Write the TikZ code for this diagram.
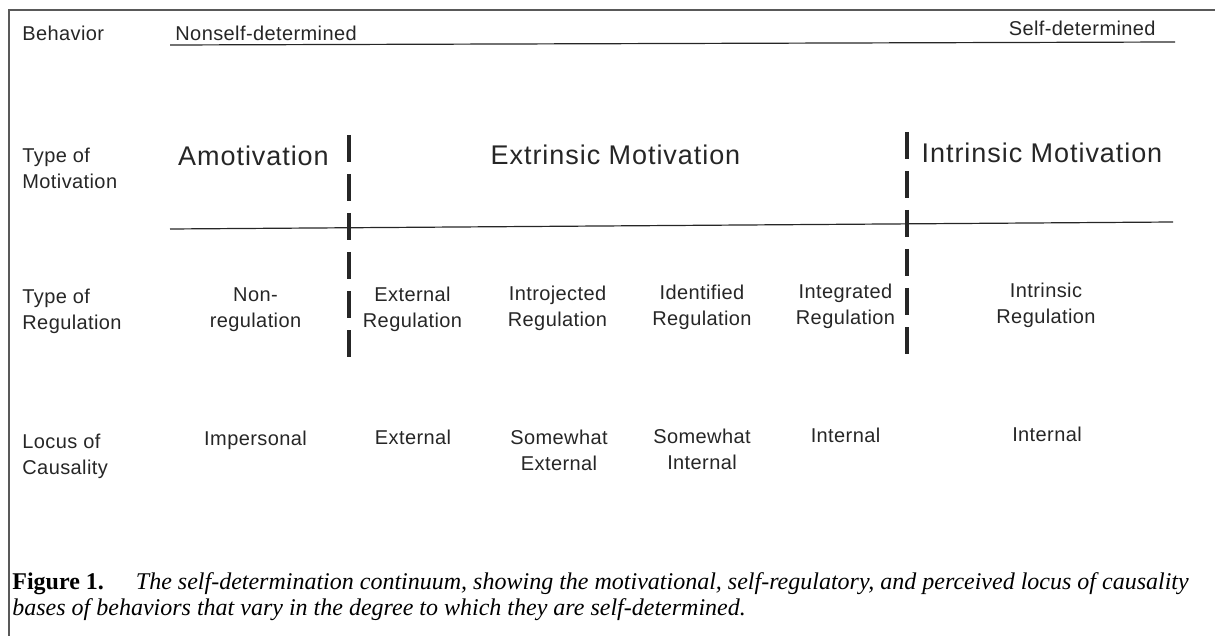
\documentclass[tikz,border=0pt]{standalone}
\usepackage{fontspec}
\setmainfont{Liberation Serif}
\newfontfamily\labelfont[LetterSpace=2]{Liberation Sans}
\newfontfamily\headfont[LetterSpace=3.5]{Liberation Sans}
\tikzset{
    sdt text/.style={inner sep=0pt, text=black!85, font=\labelfont\fontsize{10}{13}\selectfont},
    row label/.style={sdt text, anchor=north west, align=left, execute at begin node=\strut},
    cell/.style={sdt text, anchor=north, align=center, execute at begin node=\strut},
    heading/.style={sdt text, anchor=base, font=\headfont\fontsize{13.5}{16}\selectfont},
    divider/.style={line width=1.7pt, black!85, dash pattern=on 13.5pt off 6pt},
    rule/.style={line width=0.6pt, black!85},
    frame/.style={line width=1pt, black!65},
    caption/.style={inner sep=0pt, anchor=north west, align=left, font=\fontsize{12}{13}\selectfont, execute at begin node=\strut},
}

\begin{document}
\begin{tikzpicture}[x=0.5pt, y=-0.5pt]
        \useasboundingbox (0,0) rectangle (1215,636);
        %draw frame round the figure
        \draw[frame] (9,636) -- (9,10) -- (1215,10);
        %behavior scale
        \node[sdt text, anchor=base west] (behav) at (22,41) {Behavior};
        \node[sdt text, anchor=base west] (nonself) at (175,41) {Nonself-determined};
        \node[sdt text, anchor=base east] (selfdet) at (1156,36) {Self-determined};
        \coordinate (scaleL) at (170,45);
        \coordinate (scaleR) at (1175,42);
        \draw[rule] (scaleL) -- (scaleR);
        %label rows
        \node[row label] (motivlab) at (22,147.3) {Type of\\Motivation};
        \node[row label] (regullab) at (22,288.8) {Type of\\Regulation};
        \node[row label] (locuslab) at (22,433.8) {Locus of\\Causality};
        %type of motivation
        \node[heading] (amot) at (253.5,166) {Amotivation};
        \node[heading] (extr) at (615.5,165) {Extrinsic Motivation};
        \node[heading] (intr) at (1042,163) {Intrinsic Motivation};
        %line between motivation and regulation
        \coordinate (midL) at (170,229);
        \coordinate (midR) at (1173,222);
        \draw[rule] (midL) -- (midR);
        %dashed dividers
        \coordinate (divAtop) at (349,135);
        \coordinate (divAbot) at (349,357);
        \coordinate (divBtop) at (907,132);
        \coordinate (divBbot) at (907,354);
        \draw[divider] (divAtop) -- (divAbot);
        \draw[divider] (divBtop) -- (divBbot);
        %type of regulation
        \node[cell] (nonreg) at (255.5,287.8) {Non-\\regulation};
        \node[cell] (extreg) at (412.5,286.8) {External\\Regulation};
        \node[cell] (introreg) at (557.5,285.8) {Introjected\\Regulation};
        \node[cell] (identreg) at (702,284.8) {Identified\\Regulation};
        \node[cell] (integreg) at (845.5,283.8) {Integrated\\Regulation};
        \node[cell] (intrreg) at (1046,282.5) {Intrinsic\\Regulation};
        %locus of causality
        \node[cell] (imper) at (255.5,426.8) {Impersonal};
        \node[cell] (extloc) at (413,425.8) {External};
        \node[cell] (swext) at (559,429.8) {Somewhat\\External};
        \node[cell] (swint) at (702,428.8) {Somewhat\\Internal};
        \node[cell] (intlocA) at (845.5,423.8) {Internal};
        \node[cell] (intlocB) at (1047,422.8) {Internal};
        %caption
        \node[caption] (cap) at (12,571.8) {\textbf{Figure 1.}\hspace{16pt}\textit{The self-determination continuum, showing the motivational, self-regulatory, and perceived locus of causality}\\\textit{bases of behaviors that vary in the degree to which they are self-determined.}};
    \end{tikzpicture}
\end{document}
